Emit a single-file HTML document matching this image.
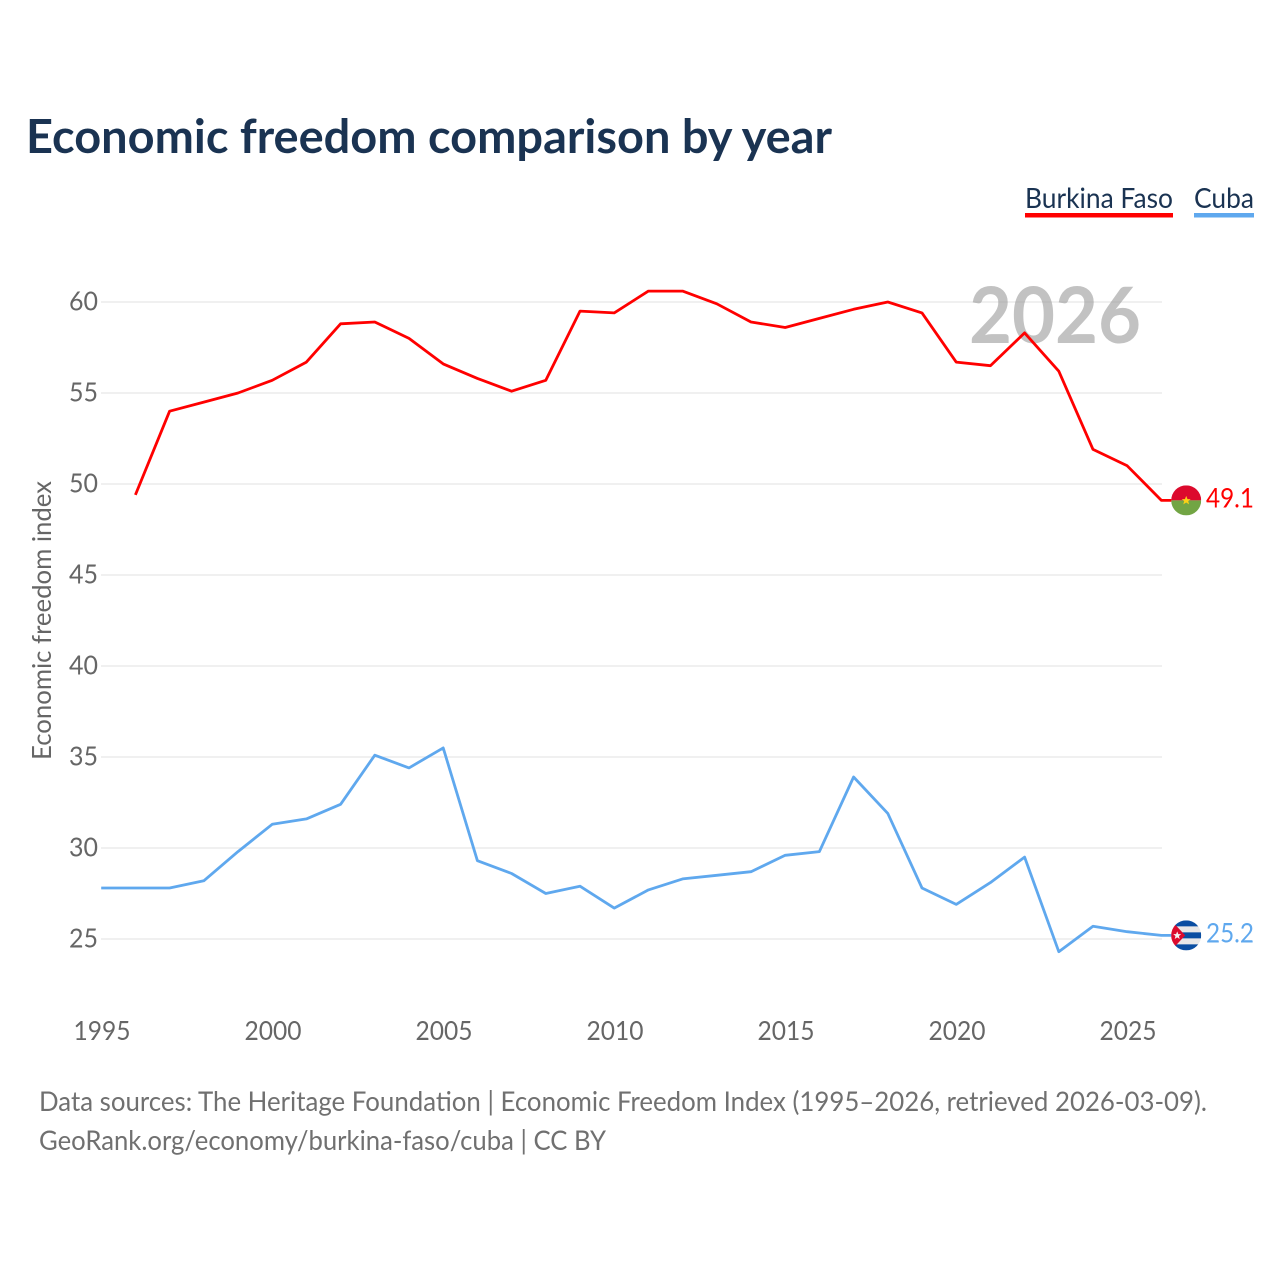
<!DOCTYPE html>
<html lang="en">
<head>
<meta charset="utf-8">
<title>Economic freedom comparison by year</title>
<style>
html,body{margin:0;padding:0;background:#fff;width:1280px;height:1280px;overflow:hidden}
svg{display:block}
text{font-family:"Lato","Carlito","Liberation Sans",sans-serif}
</style>
</head>
<body>
<svg id="chart" xmlns="http://www.w3.org/2000/svg" width="1280" height="1280" viewBox="0 0 1280 1280">
  <defs>
    <clipPath id="flag-clip-bf"><circle id="clip-bf" r="15"/></clipPath>
    <clipPath id="flag-clip-cu"><circle id="clip-cu" r="15"/></clipPath>
  </defs>
  <rect width="1280" height="1280" fill="#ffffff"/>
  <text x="26" y="153" font-size="47" font-weight="700" fill="#1a3352" textLength="806" lengthAdjust="spacingAndGlyphs">Economic freedom comparison by year</text>
  <g>
    <text x="1025" y="208" font-size="28.5" fill="#1a3352" textLength="148" lengthAdjust="spacingAndGlyphs">Burkina Faso</text>
    <rect x="1025" y="213" width="148" height="4.5" fill="#ff0000"/>
  </g>
  <g>
    <text x="1194" y="208" font-size="28.5" fill="#1a3352" textLength="60" lengthAdjust="spacingAndGlyphs">Cuba</text>
    <rect x="1194" y="213" width="60" height="4.5" fill="#5fa8ee"/>
  </g>
  <g id="grid"></g>
  <text x="969" y="343" font-size="78" font-weight="700" fill="#999999" fill-opacity="0.6" textLength="172" lengthAdjust="spacingAndGlyphs">2026</text>
  <g id="yticks"></g>
  <g id="xticks"></g>
  <text transform="translate(51,760) rotate(-90)" x="0" y="0" font-size="26.5" fill="#666666" textLength="279" lengthAdjust="spacingAndGlyphs">Economic freedom index</text>
  <path id="line-bf" fill="none" stroke="#ff0000" stroke-width="2.8" stroke-linejoin="round"/>
  <path id="line-cu" fill="none" stroke="#5fa8ee" stroke-width="2.8" stroke-linejoin="round"/>
  <g id="flag-bf">
    <g clip-path="url(#flag-clip-bf)">
      <rect x="-15" y="-15" width="30" height="15" fill="#dc0a2d"/>
      <rect x="-15" y="0" width="30" height="15" fill="#72a544"/>
      <polygon points="0,-4.5 1.3,-1.3 4.5,-1.3 2,0.8 2.9,4 0,2.1 -2.9,4 -2,0.8 -4.5,-1.3 -1.3,-1.3" fill="#fcd116"/>
    </g>
  </g>
  <g id="flag-cu">
    <g clip-path="url(#flag-clip-cu)">
      <rect x="-15" y="-15" width="30" height="30" fill="#e8e8e8"/>
      <rect x="-15" y="-15" width="30" height="6" fill="#0a4ea2"/>
      <rect x="-15" y="-3" width="30" height="6" fill="#0a4ea2"/>
      <rect x="-15" y="9" width="30" height="6" fill="#0a4ea2"/>
      <polygon points="-15,-15 -15,15 -1,0" fill="#dc0a2d"/>
      <polygon points="-9,-4 -7.9,-1.2 -5,-1.2 -7.3,0.7 -6.5,3.6 -9,2 -11.5,3.6 -10.7,0.7 -13,-1.2 -10.1,-1.2" fill="#f4f4f4"/>
    </g>
  </g>
  <text id="value-bf" x="1254" font-size="27" fill="#ff0000" text-anchor="end" textLength="48" lengthAdjust="spacingAndGlyphs"></text>
  <text id="value-cu" x="1254" font-size="27" fill="#5fa8ee" text-anchor="end" textLength="48" lengthAdjust="spacingAndGlyphs"></text>
  <text x="39" y="1111" font-size="27.5" fill="#707070" textLength="1168" lengthAdjust="spacingAndGlyphs">Data sources: The Heritage Foundation | Economic Freedom Index (1995–2026, retrieved 2026-03-09).</text>
  <text x="39" y="1150" font-size="27.5" fill="#707070" textLength="567" lengthAdjust="spacingAndGlyphs">GeoRank.org/economy/burkina-faso/cuba | CC BY</text>
</svg>
<script>
const years = [1995,1996,1997,1998,1999,2000,2001,2002,2003,2004,2005,2006,2007,2008,2009,2010,2011,2012,2013,2014,2015,2016,2017,2018,2019,2020,2021,2022,2023,2024,2025,2026];
const burkinaFaso = [null,49.4,54.0,54.5,55.0,55.7,56.7,58.8,58.9,58.0,56.6,55.8,55.1,55.7,59.5,59.4,60.6,60.6,59.9,58.9,58.6,59.1,59.6,60.0,59.4,56.7,56.5,58.3,56.2,51.9,51.0,49.1];
const cuba = [27.8,27.8,27.8,28.2,29.8,31.3,31.6,32.4,35.1,34.4,35.5,29.3,28.6,27.5,27.9,26.7,27.7,28.3,28.5,28.7,29.6,29.8,33.9,31.9,27.8,26.9,28.1,29.5,24.3,25.7,25.4,25.2];
const yTickLabels = [25,30,35,40,45,50,55,60];
const xTickLabels = [1995,2000,2005,2010,2015,2020,2025];

const NS = 'http://www.w3.org/2000/svg';
const xScale = function (year) { return 101.2 + (year - 1995) * 34.2; };
const yScale = function (value) { return 939 - (value - 25) * 18.2; };

function makeText(parent, x, y, content, anchor, length) {
  const t = document.createElementNS(NS, 'text');
  t.setAttribute('x', x);
  t.setAttribute('y', y);
  t.setAttribute('font-size', '26.5');
  t.setAttribute('fill', '#666666');
  t.setAttribute('text-anchor', anchor);
  t.setAttribute('textLength', length);
  t.setAttribute('lengthAdjust', 'spacingAndGlyphs');
  t.textContent = content;
  parent.appendChild(t);
  return t;
}

const grid = document.getElementById('grid');
const yticks = document.getElementById('yticks');
yTickLabels.forEach(function (v) {
  const l = document.createElementNS(NS, 'line');
  
  
  l.setAttribute('x1', 101);
  l.setAttribute('x2', 1162);
  l.setAttribute('y1', yScale(v));
  l.setAttribute('y2', yScale(v));
  l.setAttribute('stroke', '#e6e6e6');
  l.setAttribute('stroke-width', '1.3');
  grid.appendChild(l);
  const t = makeText(yticks, 98, yScale(v) + 8.5, String(v), 'end', 29);
  
  
});

const xticks = document.getElementById('xticks');
xTickLabels.forEach(function (y) {
  const t = makeText(xticks, 102 + (y - 1995) * 34.2, 1040, String(y), 'middle', 57);
  
  
});

function linePath(values) {
  let d = '';
  let last = null;
  values.forEach(function (v, i) {
    if (v === null) { return; }
    d += (d ? 'L' : 'M') + xScale(years[i]).toFixed(1) + ' ' + yScale(v).toFixed(1);
    last = v;
  });
  d += 'L' + (xScale(years[years.length - 1]) + 10).toFixed(1) + ' ' + yScale(last).toFixed(1);
  return d;
}

function placeSeries(values, key) {
  document.getElementById('line-' + key).setAttribute('d', linePath(values));
  const last = values[values.length - 1];
  const cy = yScale(last);
  const cx = xScale(years[years.length - 1]) + 24.8;
  document.getElementById('flag-' + key).setAttribute('transform', 'translate(' + cx + ',' + cy + ')');
  const c = document.getElementById('clip-' + key);
  c.setAttribute('cx', 0);
  c.setAttribute('cy', 0);
  const label = document.getElementById('value-' + key);
  label.setAttribute('y', cy + 7);
  label.textContent = last.toFixed(1);
}
placeSeries(burkinaFaso, 'bf');
placeSeries(cuba, 'cu');
</script>
</body>
</html>
